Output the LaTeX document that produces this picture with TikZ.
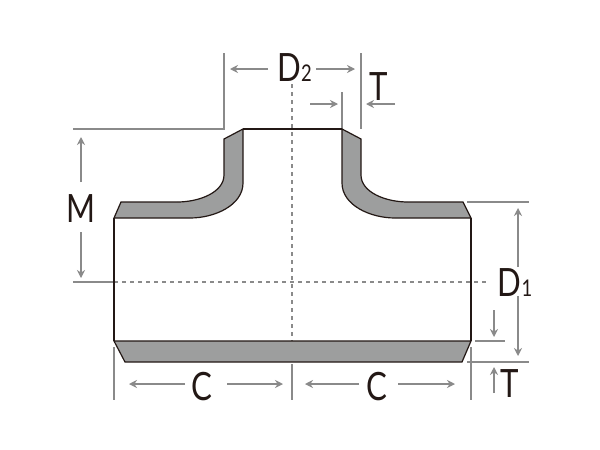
\documentclass[tikz,border=0pt]{standalone}
\usepackage{fontspec}
\setmainfont{Lato}[FakeStretch=0.8]
\usetikzlibrary{arrows.meta}
\definecolor{dimgray}{HTML}{8A8A8A}
\definecolor{wallgray}{HTML}{9D9E9E}
\definecolor{inkblack}{HTML}{231815}
\tikzset{
  wall/.style={fill=wallgray,draw=inkblack,line width=1.2pt,line join=miter},
  body/.style={draw=inkblack,line width=1.3pt},
  dimline/.style={draw=dimgray,line width=1.2pt},
  dimarrow/.style={dimline,-{Stealth[length=8pt,width=8pt]}},
  centerline/.style={draw=dimgray,line width=1.2pt,dash pattern=on 4pt off 4pt},
  biglabel/.style={inner sep=0pt,anchor=base,text=inkblack,font=\fontsize{39}{39}\selectfont},
}
\newcommand{\subnum}[1]{{\fontsize{23}{23}\selectfont #1}}
\begin{document}
\begin{tikzpicture}[x=1pt,y=-1pt]
\useasboundingbox[fill=white] (0,0) rectangle (600,450);
% extension lines
\draw[dimline] (224,53) -- (224,129) -- (73,129);
\draw[dimline] (361,53) -- (361,129);
\draw[dimline] (342,92) -- (342,129);
\draw[dimline] (73,282) -- (114,282);
\draw[dimline] (467,202) -- (529,202);
\draw[dimline] (467,362) -- (529,362);
\draw[dimline] (475,341) -- (505,341);
\draw[dimline] (114,347) -- (114,400);
\draw[dimline] (471,347) -- (471,400);
\draw[dimline] (292,364) -- (292,400);
% centre lines
\draw[centerline] (292,84) -- (292,341);
\draw[centerline] (114,282) -- (488,282);
% left wall
\draw[wall] (243,129) -- (224,139) -- (224,175)
  .. controls (224,192) and (200,202) .. (177,202)
  -- (121,202) -- (114,218) -- (190,218)
  .. controls (215,218) and (243,205) .. (243,183) -- cycle;
% right wall
\draw[wall] (342,129) -- (361,139) -- (361,175)
  .. controls (361,192) and (385,202) .. (408,202)
  -- (463,202) -- (471,218) -- (395,218)
  .. controls (370,218) and (342,205) .. (342,183) -- cycle;
% bottom wall
\draw[wall] (114,341) -- (471,341) -- (462,362) -- (125,362) -- cycle;
% body outline
\draw[body] (243,129) -- (342,129);
\draw[body] (114,218) -- (114,341);
\draw[body] (471,218) -- (471,341);
% dimension arrows
\draw[dimarrow] (268,69) -- (230,69);
\draw[dimarrow] (316,69) -- (355,69);
\draw[dimarrow] (310,104) -- (338,104);
\draw[dimarrow] (395,104) -- (366,104);
\draw[dimarrow] (81,182) -- (81,137);
\draw[dimarrow] (81,232) -- (81,278);
\draw[dimarrow] (518,267) -- (518,208);
\draw[dimarrow] (518,296) -- (518,356);
\draw[dimarrow] (494,310) -- (494,337);
\draw[dimarrow] (494,393) -- (494,367);
\draw[dimarrow] (185,384) -- (129,384);
\draw[dimarrow] (227,384) -- (283,384);
\draw[dimarrow] (359,384) -- (305,384);
\draw[dimarrow] (398,384) -- (455,384);
% labels
\node[biglabel] (dtwo) at (294.5,81.5) {D\subnum{2}};
\node[biglabel] (ttop) at (379,100) {T};
\node[biglabel] (m) at (81,222) {M};
\node[biglabel] (done) at (515,296) {D\subnum{1}};
\node[biglabel] (tbot) at (510,397) {T};
\node[biglabel] (cleft) at (202,400) {C};
\node[biglabel] (cright) at (377,400) {C};
\end{tikzpicture}
\end{document}
